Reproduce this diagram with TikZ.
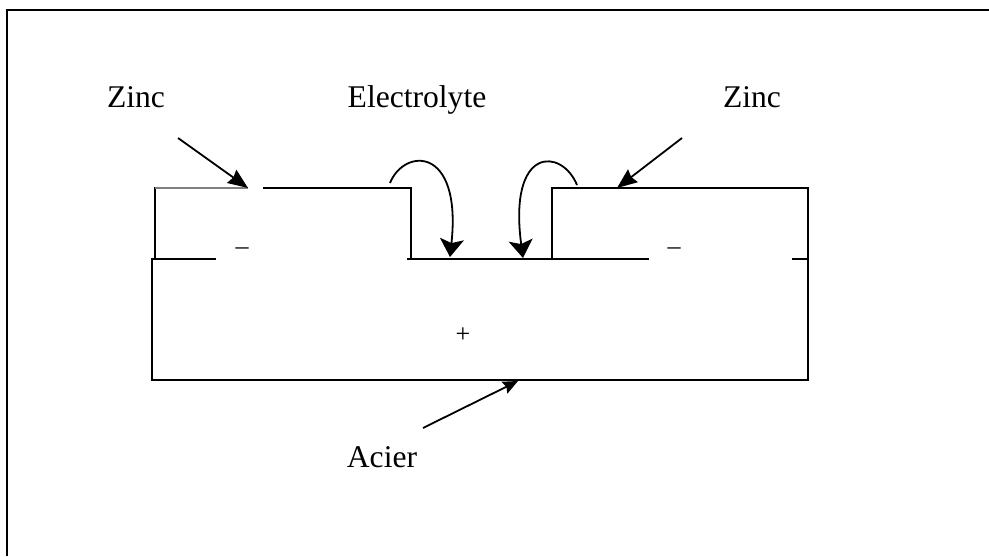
\documentclass[tikz,border=0pt]{standalone}
\usepackage{fontspec}
\setmainfont{Liberation Serif}
\usetikzlibrary{arrows.meta}
\begin{document}
\begin{tikzpicture}[x=0.5pt,y=-0.5pt,
  wall/.style={line width=1pt, line cap=rect},
  lbl/.style={anchor=base, inner sep=0pt, font=\fontsize{15.8}{19}\selectfont},
  sign/.style={inner sep=0pt, font=\fontsize{13}{15}\selectfont},
  ptr/.style={line width=0.9pt, -{Stealth[length=10pt,width=8pt,inset=1pt]}},
  ptrsmall/.style={line width=0.9pt, -{Stealth[length=7.5pt,width=6.5pt,inset=1pt]}},
  curl/.style={line width=0.9pt, -{Stealth[length=9pt,width=12pt,inset=2pt]}},
]
\useasboundingbox (0,0) rectangle (989,556);
% frame
\draw[line width=1.1pt] (7,556) -- (7,10) -- (989,10);
% steel
\draw[wall] (215,259) -- (152,259) -- (152,380) -- (808,380) -- (808,259) -- (793,259);
% left zinc block
\draw[wall] (155,259) -- (155,188);
\draw[gray, line width=0.6pt] (155,188) -- (248,188);
\draw[wall] (264,188) -- (411,188) -- (411,259);
% middle floor and right block
\draw[wall] (408,259) -- (648,259);
\draw[wall] (552,259) -- (552,188) -- (808,188) -- (808,259);
% signs
\node[sign] (m1) at (242,251) {–};
\node[sign] (m2) at (674,251) {–};
\node[sign] (p1) at (463,335) {+};
% labels
\node[lbl] (zincL) at (136,107) {Zinc};
\node[lbl] (elec) at (417,107) {Electrolyte};
\node[lbl] (zincR) at (752,107) {Zinc};
\node[lbl] (acier) at (382,467) {Acier};
% arrow ends
\coordinate (zlA) at (178,138);
\coordinate (zlB) at (248,188);
\coordinate (zrA) at (682,138);
\coordinate (zrB) at (617,188);
\coordinate (acA) at (423,428);
\coordinate (acB) at (518,381);
\coordinate (c1A) at (390,183);
\coordinate (c1B) at (450,257);
\coordinate (c2A) at (577,185);
\coordinate (c2B) at (523,258);
\draw[ptr] (zlA) -- (zlB);
\draw[ptr] (zrA) -- (zrB);
\draw[ptrsmall] (acA) -- (acB);
\draw[curl] (c1A) .. controls (404,148) and (462,145) .. (c1B);
\draw[curl] (c2A) .. controls (562,148) and (508,145) .. (c2B);
\end{tikzpicture}
\end{document}
